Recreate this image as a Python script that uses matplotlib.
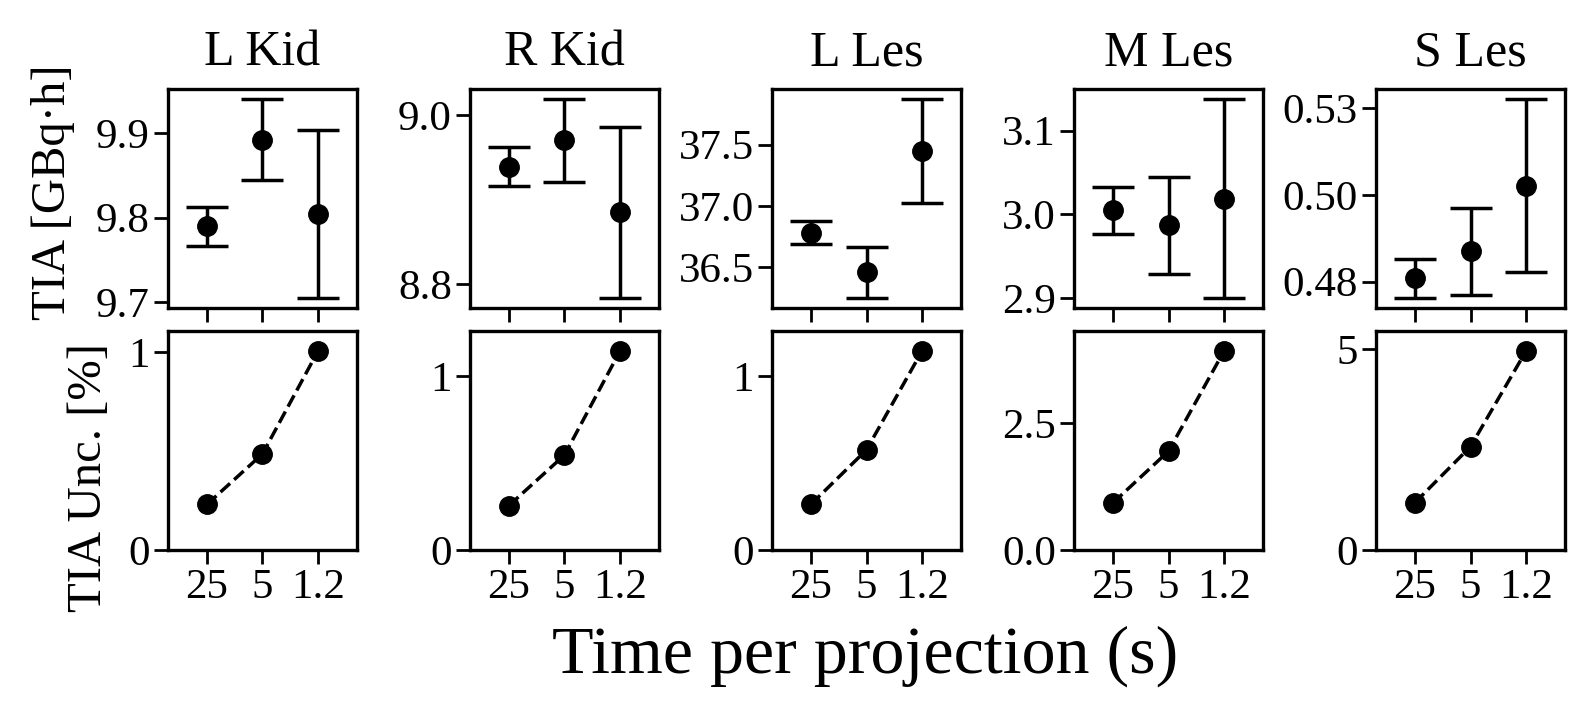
import numpy as np
import matplotlib
matplotlib.use('Agg')
import matplotlib.pyplot as plt

plt.rcParams['font.family'] = ['Liberation Serif', 'DejaVu Serif']

# regioes e tempos por projecao
regioes = ['L Kid', 'R Kid', 'L Les', 'M Les', 'S Les']
tempos = ['25', '5', '1.2']

# TIA [GBq h] e barras de erro (meia largura)
tia_lkid = [9.790, 9.892, 9.804]
err_lkid = [0.023, 0.048, 0.099]
tia_rkid = [8.939, 8.970, 8.885]
err_rkid = [0.023, 0.049, 0.101]
tia_lles = [36.783, 36.459, 37.446]
err_lles = [0.096, 0.210, 0.426]
tia_mles = [3.005, 2.987, 3.019]
err_mles = [0.028, 0.058, 0.119]
tia_sles = [0.4810, 0.4888, 0.5077]
err_sles = [0.0057, 0.0125, 0.0250]

# incerteza relativa do TIA [%]
unc_lkid = [0.230, 0.485, 1.005]
unc_rkid = [0.255, 0.545, 1.143]
unc_lles = [0.262, 0.575, 1.143]
unc_mles = [0.93, 1.95, 3.93]
unc_sles = [1.18, 2.575, 4.96]

tias = [tia_lkid, tia_rkid, tia_lles, tia_mles, tia_sles]
errs = [err_lkid, err_rkid, err_lles, err_mles, err_sles]
uncs = [unc_lkid, unc_rkid, unc_lles, unc_mles, unc_sles]

# ticks do eixo y (linha de cima e de baixo)
yticks_top = [[9.7, 9.8, 9.9], [8.8, 9.0], [36.5, 37.0, 37.5], [2.9, 3.0, 3.1], [0.48, 0.505, 0.53]]
ylabels_top = [['9.7', '9.8', '9.9'], ['8.8', '9.0'], ['36.5', '37.0', '37.5'],
               ['2.9', '3.0', '3.1'], ['0.48', '0.50', '0.53']]
yticks_bot = [[0, 1], [0, 1], [0, 1], [0, 2.5], [0, 5]]
ylabels_bot = [['0', '1'], ['0', '1'], ['0', '1'], ['0.0', '2.5'], ['0', '5']]

fig, axes = plt.subplots(2, 5, figsize=(15.93, 7.15), dpi=100)
fig.subplots_adjust(left=168/1593, right=1565/1593, top=1-89/715, bottom=1-550/715,
                    wspace=0.598, hspace=0.105)

x = np.arange(len(tempos))
for i in range(5):
    ax1 = axes[0, i]
    ax2 = axes[1, i]

    ax1.errorbar(x, tias[i], yerr=errs[i], fmt='o', color='black', ms=14,
                 elinewidth=2.5, capsize=15, capthick=2.5)
    ax1.set_title(regioes[i], fontsize=36, pad=17)
    ax1.set_yticks(yticks_top[i])
    ax1.set_yticklabels(ylabels_top[i])
    ax1.set_xticks(x)
    ax1.set_xticklabels([])

    ax2.plot(x, uncs[i], 'o--', color='black', ms=14, lw=2.5)
    ax2.set_ylim(0, max(uncs[i]) * 1.1)
    ax2.set_yticks(yticks_bot[i])
    ax2.set_yticklabels(ylabels_bot[i])
    ax2.set_xticks(x)
    ax2.set_xticklabels(tempos)

    for ax in (ax1, ax2):
        ax.set_xlim(-0.7, 2.7)
        ax.tick_params(labelsize=31, length=10, width=2, pad=3)
        for s in ax.spines.values():
            s.set_linewidth(2.4)

# rotulos dos eixos
fig.text(0.0333, 0.7315, 'TIA [GBq·h]', fontsize=35, rotation=90, ha='center', va='center')
fig.text(0.0559, 0.3315, 'TIA Unc. [%]', fontsize=35, rotation=90, ha='center', va='center')
fig.text(0.543, 0.060, 'Time per projection (s)', fontsize=49, ha='center', va='baseline')

plt.savefig('out.png', dpi=100)
